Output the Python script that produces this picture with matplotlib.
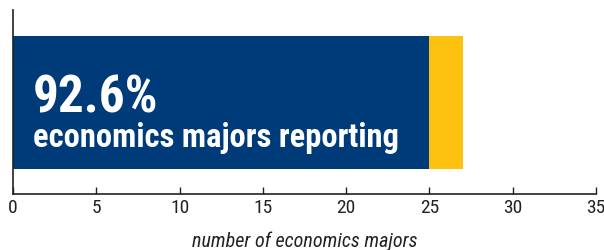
import matplotlib
matplotlib.use("Agg")
import matplotlib.pyplot as plt

# data
categories = ["economics majors"]
reporting = [25]
not_reporting = [2]
xticks = [0, 5, 10, 15, 20, 25, 30, 35]

blue = "#003b79"
gold = "#fdc20f"
font = ["Roboto Condensed", "Liberation Sans Narrow", "Roboto", "DejaVu Sans"]

fig = plt.figure(figsize=(6.04, 2.51), dpi=100)
ax = fig.add_axes([0.0215, 0.223, 0.9653, 0.733])

ax.barh(categories, reporting, height=0.723, color=blue)
ax.barh(categories, not_reporting, left=reporting, height=0.723, color=gold)

ax.set_xlim(0, 35)
ax.set_ylim(-0.5, 0.5)
ax.set_yticks([])
ax.set_xticks(xticks)
ax.set_xticklabels([str(t) for t in xticks], family=font, fontsize=14, color="#222222")
ax.tick_params(axis="x", direction="in", length=5, width=1, pad=3, color="#222222")
for s in ["top", "right"]:
    ax.spines[s].set_visible(False)
for s in ["left", "bottom"]:
    ax.spines[s].set_linewidth(1.2)
    ax.spines[s].set_color("#222222")

pct = 100 * reporting[0] / (reporting[0] + not_reporting[0])
ax.text(1.2, -0.054, f"{pct:.1f}%", color="white", fontsize=37, fontweight="bold",
        family=font, va="baseline")
ax.text(1.2, -0.24, "economics majors reporting", color="white", fontsize=23.5,
        fontweight="bold", family=font, va="baseline")

ax.set_xlabel("number of economics majors", family=font, style="italic",
              fontsize=14.5, color="#222222", labelpad=10)

fig.savefig("out.png", dpi=100)
